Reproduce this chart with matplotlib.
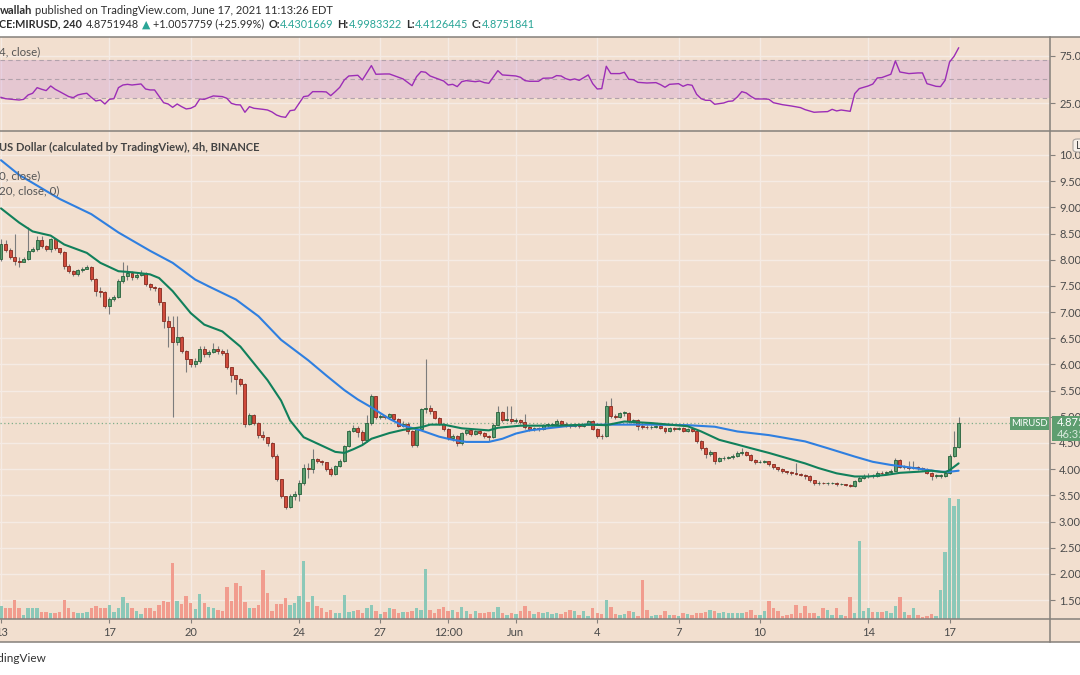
import matplotlib
matplotlib.use("Agg")
import matplotlib.pyplot as plt
from matplotlib.patches import Rectangle, FancyBboxPatch
from matplotlib.lines import Line2D
import numpy as np

W, H = 1080, 675
plt.rcParams['font.family'] = ['Lato', 'DejaVu Sans']

# ---- 4h candles, MIR/USD, May 13 00:00 .. Jun 17 08:00 ----
first_open = 8.02
close = [
    8.30, 8.19, 8.06, 7.97, 7.96, 8.02, 8.17, 8.21, 8.38, 8.26,
    8.21, 8.39, 8.22, 8.15, 7.88, 7.78, 7.72, 7.81, 7.83, 7.87,
    7.63, 7.40, 7.38, 7.12, 7.25, 7.28, 7.60, 7.68, 7.74, 7.67,
    7.71, 7.74, 7.54, 7.48, 7.46, 7.19, 6.82, 6.72, 6.42, 6.53,
    6.26, 6.10, 6.01, 6.06, 6.29, 6.20, 6.24, 6.30, 6.25, 6.22,
    5.95, 5.79, 5.73, 5.62, 4.87, 5.04, 4.88, 4.66, 4.61, 4.50,
    4.26, 3.82, 3.49, 3.28, 3.49, 3.52, 3.73, 4.03, 4.01, 4.19,
    4.16, 4.13, 4.00, 3.90, 4.06, 4.16, 4.45, 4.72, 4.79, 4.71,
    4.55, 4.89, 5.39, 4.99, 5.01, 4.99, 5.05, 4.96, 4.83, 4.87,
    4.72, 4.47, 4.76, 5.14, 5.17, 5.11, 4.97, 4.87, 4.76, 4.59,
    4.64, 4.50, 4.69, 4.74, 4.68, 4.72, 4.69, 4.63, 4.61, 4.85,
    5.10, 4.93, 4.96, 4.91, 4.94, 4.90, 4.80, 4.77, 4.78, 4.76,
    4.85, 4.85, 4.86, 4.92, 4.86, 4.85, 4.82, 4.86, 4.82, 4.86,
    4.91, 4.77, 4.64, 4.63, 5.20, 5.01, 5.00, 5.07, 5.08, 4.92,
    4.93, 4.83, 4.81, 4.80, 4.81, 4.82, 4.79, 4.72, 4.79, 4.76,
    4.79, 4.72, 4.77, 4.72, 4.53, 4.40, 4.29, 4.32, 4.16, 4.21,
    4.22, 4.23, 4.25, 4.31, 4.32, 4.27, 4.18, 4.13, 4.14, 4.15,
    4.09, 4.04, 4.00, 3.96, 3.94, 3.92, 3.91, 3.89, 3.86, 3.79,
    3.73, 3.74, 3.73, 3.73, 3.74, 3.71, 3.71, 3.69, 3.68, 3.77,
    3.84, 3.86, 3.87, 3.86, 3.93, 3.92, 3.95, 3.96, 4.18, 4.05,
    4.05, 4.02, 4.04, 4.02, 4.01, 3.92, 3.87, 3.87, 3.87, 3.92,
    4.26, 4.43, 4.875,
]
high = [
    8.39, 8.38, 8.22, 8.50, 8.05, 8.05, 8.62, 8.25, 8.46, 8.45,
    8.28, 8.41, 8.40, 8.23, 8.16, 7.92, 7.80, 7.83, 7.87, 7.90,
    7.88, 7.65, 7.47, 7.40, 7.28, 7.32, 7.63, 7.95, 7.90, 7.78,
    7.76, 7.80, 7.76, 7.56, 7.50, 7.47, 7.20, 6.92, 6.92, 6.92,
    6.55, 6.27, 6.10, 6.12, 6.36, 6.35, 6.28, 6.40, 6.35, 6.30,
    6.30, 5.96, 5.80, 5.75, 5.64, 5.08, 5.06, 4.90, 4.72, 4.62,
    4.52, 4.28, 3.82, 3.49, 3.52, 3.58, 3.80, 4.10, 4.12, 4.38,
    4.22, 4.18, 4.14, 4.05, 4.08, 4.19, 4.47, 4.74, 4.85, 4.82,
    4.74, 5.04, 5.44, 5.40, 5.06, 5.04, 5.08, 5.06, 4.97, 4.92,
    4.90, 4.74, 4.78, 5.16, 6.11, 5.22, 5.12, 5.00, 4.88, 4.78,
    4.67, 4.66, 4.71, 4.77, 4.76, 4.74, 4.74, 4.70, 4.66, 4.88,
    5.20, 5.11, 5.20, 5.20, 4.97, 4.96, 5.06, 4.83, 4.81, 4.80,
    4.87, 4.88, 4.89, 4.95, 4.93, 4.90, 4.87, 4.88, 4.89, 4.88,
    4.94, 4.93, 4.79, 4.68, 5.30, 5.36, 5.05, 5.10, 5.12, 5.10,
    4.96, 4.95, 4.86, 4.84, 4.84, 4.85, 4.84, 4.80, 4.81, 4.81,
    4.81, 4.80, 4.79, 4.78, 4.73, 4.55, 4.42, 4.36, 4.33, 4.24,
    4.25, 4.26, 4.28, 4.34, 4.40, 4.34, 4.28, 4.20, 4.17, 4.18,
    4.16, 4.10, 4.05, 4.02, 3.97, 3.96, 4.12, 3.92, 3.91, 3.88,
    3.80, 3.77, 3.76, 3.76, 3.76, 3.75, 3.74, 3.72, 3.71, 3.79,
    3.87, 3.90, 3.92, 3.90, 3.96, 3.97, 3.97, 4.00, 4.22, 4.20,
    4.08, 4.15, 4.15, 4.06, 4.04, 4.03, 3.94, 3.91, 3.90, 3.94,
    4.29, 4.72, 4.998,
]
low = [
    7.97, 8.14, 8.02, 7.90, 7.87, 7.95, 8.00, 8.14, 8.17, 8.22,
    8.17, 8.15, 8.18, 8.10, 7.82, 7.74, 7.68, 7.68, 7.76, 7.82,
    7.60, 7.30, 7.28, 7.08, 6.97, 7.22, 7.26, 7.55, 7.62, 7.62,
    7.64, 7.68, 7.50, 7.42, 7.40, 7.14, 6.69, 6.34, 5.00, 6.38,
    6.22, 5.86, 5.95, 5.95, 6.02, 6.15, 6.14, 6.21, 6.20, 6.18,
    5.92, 5.67, 5.44, 5.58, 4.80, 4.85, 4.85, 4.60, 4.56, 4.45,
    4.22, 3.78, 3.44, 3.23, 3.25, 3.42, 3.39, 3.70, 3.84, 3.92,
    4.12, 4.08, 3.96, 3.86, 3.88, 4.04, 4.14, 4.42, 4.70, 4.62,
    4.46, 4.52, 4.85, 4.95, 4.95, 4.96, 4.97, 4.92, 4.80, 4.80,
    4.68, 4.42, 4.42, 4.74, 5.08, 5.05, 4.95, 4.85, 4.72, 4.55,
    4.53, 4.45, 4.46, 4.66, 4.64, 4.66, 4.65, 4.60, 4.54, 4.59,
    4.84, 4.90, 4.92, 4.88, 4.89, 4.87, 4.77, 4.73, 4.73, 4.72,
    4.74, 4.81, 4.82, 4.84, 4.83, 4.81, 4.79, 4.80, 4.79, 4.80,
    4.84, 4.74, 4.60, 4.58, 4.62, 4.98, 4.95, 4.98, 5.02, 4.88,
    4.88, 4.74, 4.77, 4.76, 4.77, 4.78, 4.76, 4.69, 4.71, 4.73,
    4.74, 4.70, 4.70, 4.70, 4.50, 4.36, 4.22, 4.26, 4.10, 4.14,
    4.17, 4.19, 4.20, 4.23, 4.27, 4.25, 4.16, 4.10, 4.11, 4.11,
    4.06, 4.01, 3.97, 3.93, 3.91, 3.89, 3.88, 3.86, 3.82, 3.76,
    3.70, 3.70, 3.71, 3.70, 3.71, 3.68, 3.69, 3.67, 3.66, 3.66,
    3.76, 3.82, 3.84, 3.83, 3.85, 3.89, 3.90, 3.92, 3.96, 4.02,
    4.01, 3.99, 4.00, 3.99, 3.98, 3.90, 3.79, 3.83, 3.84, 3.85,
    3.90, 4.23, 4.413,
]
# volume, relative units
volume = [
    13.3, 11.0, 10.7, 19.3, 10.7, 4.3, 11.0, 10.7, 10.7, 7.3,
    7.3, 6.0, 5.7, 7.3, 19.3, 11.0, 6.7, 5.7, 6.0, 7.3,
    11.0, 13.3, 11.0, 11.0, 14.0, 7.3, 11.0, 22.3, 16.0, 11.0,
    7.7, 5.0, 10.7, 10.7, 7.7, 14.3, 18.3, 16.7, 55.7, 18.3,
    15.0, 23.3, 16.0, 10.0, 25.0, 16.0, 12.3, 11.0, 9.3, 8.3,
    32.3, 18.3, 35.7, 33.3, 17.3, 11.0, 10.7, 14.3, 49.3, 26.0,
    8.3, 15.0, 15.0, 21.0, 14.0, 15.7, 22.7, 58.3, 17.3, 22.7,
    12.7, 11.0, 7.3, 9.3, 6.0, 6.0, 24.0, 7.3, 8.3, 9.3,
    6.0, 11.0, 14.0, 7.7, 5.0, 6.7, 11.0, 10.0, 5.7, 6.7,
    7.3, 7.7, 10.7, 9.3, 50.0, 9.0, 6.0, 10.0, 12.3, 8.3,
    9.0, 6.7, 12.3, 8.3, 5.0, 7.7, 5.7, 5.7, 6.7, 7.3,
    11.7, 6.0, 4.3, 6.0, 5.0, 7.7, 13.3, 7.7, 5.0, 7.3,
    6.0, 6.7, 5.0, 6.0, 5.0, 6.7, 9.3, 8.3, 4.0, 8.3,
    2.7, 11.0, 6.0, 5.0, 19.3, 12.3, 5.0, 4.3, 5.0, 8.3,
    7.3, 2.7, 39.3, 9.3, 3.3, 4.3, 4.0, 7.7, 4.0, 4.3,
    3.3, 6.0, 5.0, 4.3, 5.7, 5.7, 7.3, 9.0, 7.7, 5.7,
    7.3, 6.0, 6.0, 6.0, 6.0, 7.3, 9.3, 4.0, 4.3, 7.7,
    18.3, 10.7, 8.3, 3.3, 4.3, 5.0, 14.0, 6.0, 13.3, 5.7,
    6.0, 2.7, 11.0, 9.3, 4.0, 10.7, 4.0, 3.3, 21.7, 6.0,
    78.0, 8.3, 11.3, 7.3, 7.3, 7.3, 8.3, 5.7, 13.3, 22.3,
    7.3, 4.0, 11.0, 4.3, 2.3, 3.3, 5.0, 3.3, 29.3, 67.0,
    121.0, 113.0, 120.0,
]

# moving averages (bar index, value)
slow_idx = [0, 4, 13, 20, 26, 33, 38, 43, 46, 52, 57, 62, 68, 72, 76, 79,
            82, 86, 89, 93, 97, 100, 103, 108, 111, 114, 117, 121, 126, 130,
            134, 138, 144, 152, 158, 163, 170, 178, 183, 189, 193, 197, 199,
            203, 208, 210, 212]
slow_val = [9.90, 9.62, 9.16, 8.87, 8.52, 8.17, 7.94, 7.62, 7.49, 7.24, 6.92,
            6.47, 6.08, 5.79, 5.51, 5.33, 5.18, 4.96, 4.83, 4.74, 4.62, 4.56,
            4.52, 4.52, 4.58, 4.68, 4.74, 4.78, 4.83, 4.85, 4.85, 4.85, 4.85,
            4.84, 4.81, 4.72, 4.65, 4.53, 4.40, 4.24, 4.14, 4.08, 4.06, 4.01,
            3.95, 3.95, 3.97]
fast_idx = [0, 4, 7, 11, 14, 19, 22, 26, 29, 33, 35, 38, 42, 45, 49, 53, 56,
            59, 62, 64, 67, 71, 74, 76, 78, 80, 82, 86, 89, 93, 95, 98, 102,
            108, 110, 115, 123, 130, 134, 138, 144, 152, 155, 159, 163, 166,
            170, 174, 178, 181, 185, 189, 192, 196, 199, 203, 206, 209, 210, 212]
fast_val = [8.98, 8.71, 8.54, 8.46, 8.29, 8.13, 7.94, 7.78, 7.76, 7.72, 7.65,
            7.40, 6.98, 6.76, 6.63, 6.34, 6.02, 5.70, 5.31, 4.93, 4.61, 4.45,
            4.33, 4.31, 4.38, 4.46, 4.58, 4.69, 4.75, 4.80, 4.85, 4.85, 4.78,
            4.74, 4.79, 4.83, 4.83, 4.85, 4.84, 4.91, 4.88, 4.82, 4.72, 4.56,
            4.47, 4.40, 4.31, 4.21, 4.11, 4.02, 3.92, 3.86, 3.86, 3.89, 3.93,
            3.95, 3.97, 3.94, 3.98, 4.11]

# RSI (bar index, value)
rsi_idx = [0, 1, 4, 5, 6, 7, 8, 9, 10, 11, 12, 13, 15, 16, 17, 18, 19, 20, 21,
           22, 23, 24, 25, 26, 27, 28, 29, 31, 32, 33, 34, 36, 37, 38, 39, 40,
           41, 42, 43, 44, 45, 46, 47, 49, 50, 51, 52, 53, 54, 55, 56, 58, 59,
           60, 61, 62, 63, 64, 65, 67, 68, 69, 71, 72, 73, 74, 75, 76, 77, 79,
           80, 82, 83, 85, 86, 88, 89, 91, 92, 93, 94, 95, 97, 98, 99, 100,
           101, 102, 103, 105, 106, 107, 108, 110, 111, 113, 114, 115, 116,
           117, 119, 120, 122, 123, 124, 125, 126, 127, 128, 130, 131, 132,
           133, 134, 135, 137, 138, 139, 140, 141, 143, 145, 146, 147, 148,
           150, 151, 152, 153, 154, 155, 156, 157, 158, 160, 161, 162, 163,
           164, 165, 166, 167, 169, 170, 171, 173, 175, 177, 178, 180, 181,
           183, 184, 185, 186, 187, 188, 189, 190, 192, 193, 194, 195, 197,
           198, 199, 201, 203, 204, 205, 207, 208, 209, 210, 211, 212]
rsi_val = [31.0, 29.6, 28.2, 28.9, 33.5, 35.3, 41.2, 39.5, 38.1, 43.0, 39.5,
           37.0, 31.8, 30.7, 33.5, 34.6, 35.3, 31.0, 27.2, 28.2, 24.0, 28.9,
           29.6, 41.2, 44.0, 44.7, 44.0, 45.1, 39.8, 38.8, 38.8, 25.4, 24.0,
           20.5, 24.0, 21.2, 18.8, 19.5, 21.9, 29.3, 28.9, 30.7, 32.5, 31.8,
           30.0, 24.7, 23.3, 23.0, 15.3, 21.2, 19.5, 18.4, 17.7, 15.6, 12.4,
           10.7, 10.0, 17.0, 17.7, 31.8, 32.5, 37.0, 37.0, 36.7, 32.8, 37.0,
           41.6, 49.3, 53.5, 54.2, 49.3, 64.4, 55.3, 55.6, 55.6, 52.1, 50.4,
           43.3, 52.8, 58.1, 57.4, 53.5, 50.0, 48.2, 44.0, 44.7, 42.3, 47.5,
           48.6, 47.5, 48.2, 46.5, 45.8, 59.1, 54.6, 53.9, 53.5, 52.1, 48.6,
           47.9, 47.9, 51.1, 51.4, 53.9, 53.5, 50.7, 49.3, 50.4, 48.9, 54.6,
           45.4, 39.8, 40.2, 63.7, 56.0, 56.0, 57.4, 50.0, 49.6, 46.8, 46.1,
           46.5, 44.4, 41.6, 44.7, 45.4, 42.6, 44.5, 43.7, 34.2, 29.6, 27.9,
           27.9, 23.7, 25.1, 26.8, 27.2, 31.4, 37.0, 35.6, 32.1, 29.3, 29.3,
           29.0, 25.4, 23.3, 21.9, 20.2, 18.1, 15.3, 15.6, 16.0, 18.4, 16.7,
           17.7, 17.0, 16.3, 34.9, 40.2, 43.0, 45.0, 51.4, 51.8, 55.3, 69.3,
           57.7, 56.0, 56.7, 56.7, 45.4, 42.6, 42.3, 48.9, 68.2, 74.2, 83.0]

date_idx = [0, 24, 42, 66, 84, 99, 114, 132, 150, 168, 192, 210]
date_lbl = ['13', '17', '20', '24', '27', '12:00', 'Jun', '4', '7', '10', '14', '17']
last_price = 4.875

BG = '#f2dfcf'
GRID = '#f5ebe4'
FRAME = '#85807b'
TXT = '#4a4a4a'
TEAL = '#2aa597'
UP_FILL, UP_EDGE = '#5c9e70', '#24603a'
DN_FILL, DN_EDGE = '#cf4a3b', '#852a1f'
VOL_UP, VOL_DN = '#8cc8b8', '#f19c8e'


def rect(x0, y0, x1, y1):
    return [x0 / W, 1 - y1 / H, (x1 - x0) / W, (y1 - y0) / H]


def fx(x):
    return x / W


def fy(y):
    return 1 - y / H


n = len(close)
idx = np.arange(n)
c = np.array(close)
o = np.array([first_open] + close[:-1])
hi = np.array(high)
lo = np.array(low)
up = c >= o
XL = (-1 / 4.517, 1049 / 4.517)

fig = plt.figure(figsize=(W / 100, H / 100), dpi=100, facecolor='white')
fig.patches.append(Rectangle((0, fy(642)), 1, fy(37) - fy(642), transform=fig.transFigure,
                             facecolor=BG, edgecolor='none', zorder=-5))

# ---- RSI pane ----
rax = fig.add_axes(rect(0, 37, 1050, 131))
rax.set_facecolor('none')
rax.set_xlim(XL)
rax.set_ylim(-4.4, 94.5)
rax.set_axisbelow(True)
rax.axhspan(30, 70, facecolor='#c48ad8', alpha=0.28, lw=0, zorder=1)
for lv in (30, 50, 70):
    rax.axhline(lv, color='#b2a2ac', lw=0.8, ls=(0, (4, 3)), zorder=2)
rax.plot(rsi_idx, rsi_val, color='#9c2db6', lw=1.0, zorder=3)
rax.set_xticks(date_idx)
rax.set_xticklabels([])
rax.set_yticks([25, 75])
rax.set_yticklabels(['25.00', '75.00'])
rax.yaxis.tick_right()
rax.tick_params(axis='x', length=0)
rax.tick_params(axis='y', direction='out', length=3.5, pad=3, labelsize=8,
                colors=FRAME, labelcolor=TXT)
rax.grid(True, color=GRID, lw=1)
for s in rax.spines.values():
    s.set_visible(False)

# ---- price pane ----
ax = fig.add_axes(rect(0, 131, 1050, 619))
ax.set_facecolor('none')
ax.set_xlim(XL)
ax.set_ylim(1.138, 10.458)
ax.set_axisbelow(True)
ax.grid(True, color=GRID, lw=1)
ax.vlines(idx, lo, hi, color='#7c7c7c', lw=0.8, zorder=3)
body_lo = np.minimum(o, c)
body_h = np.maximum(np.abs(c - o), 0.012)
ax.bar(idx, body_h, bottom=body_lo, width=0.66,
       color=np.where(up, UP_FILL, DN_FILL), edgecolor=np.where(up, UP_EDGE, DN_EDGE),
       lw=0.6, zorder=4)
ax.plot(slow_idx, slow_val, color='#2f7fe0', lw=1.5, zorder=5, solid_capstyle='round')
ax.plot(fast_idx, fast_val, color='#11805b', lw=1.5, zorder=5, solid_capstyle='round')
ax.axhline(last_price, color='#7fae8b', lw=0.9, ls=(0, (1, 2)), zorder=2)
ax.set_xticks(date_idx)
ax.set_xticklabels(date_lbl)
ax.set_yticks(np.arange(1.5, 10.01, 0.5))
ax.yaxis.set_major_formatter(matplotlib.ticker.FuncFormatter(lambda v, p: f'{v:.3f}'))
ax.yaxis.tick_right()
ax.tick_params(axis='y', direction='out', length=3.5, pad=3, labelsize=8,
               colors=FRAME, labelcolor=TXT)
ax.tick_params(axis='x', direction='out', length=3, pad=3, labelsize=8,
               colors=FRAME, labelcolor=TXT)
for s in ax.spines.values():
    s.set_visible(False)

# volume on top, sharing the bar positions
vax = fig.add_axes(rect(0, 131, 1050, 619))
vax.set_facecolor('none')
vax.set_xlim(XL)
vax.set_ylim(0, 488)
vax.bar(idx, volume, width=0.76, color=np.where(up, VOL_UP, VOL_DN), lw=0)
vax.axis('off')

# frame lines
for yy in (37, 131, 619, 642):
    fig.add_artist(Line2D([0, 1], [fy(yy), fy(yy)], color=FRAME, lw=1.1))
fig.add_artist(Line2D([fx(1050), fx(1050)], [fy(37), fy(642)], color=FRAME, lw=1.1))

# price tags
fig.add_artist(Rectangle((fx(1010), fy(430)), fx(39), fy(417) - fy(430),
                         facecolor='#5e9e70', edgecolor='none', zorder=6))
fig.text(fx(1029.5), fy(423.5), 'MIRUSD', color='white', fontsize=6.8,
         ha='center', va='center', zorder=7)
fig.add_artist(Rectangle((fx(1052), fy(441)), fx(30), fy(416) - fy(441),
                         facecolor='#5e9e70', edgecolor='none', zorder=6))
fig.text(fx(1057), fy(423), '4.875', color='white', fontsize=8, va='center', zorder=7)
fig.text(fx(1057), fy(435), '46:35', color='#d8eadc', fontsize=8, va='center', zorder=7)
fig.add_artist(FancyBboxPatch((fx(1073), fy(152)), fx(12), fy(139) - fy(152),
                              boxstyle='round,pad=0,rounding_size=0.004',
                              transform=fig.transFigure, facecolor='#f7efe8',
                              edgecolor='#a9a39e', lw=0.8, zorder=6))
fig.text(fx(1076), fy(145.5), 'L', color=TXT, fontsize=8, va='center', zorder=7)

# pane legends
fig.text(fx(-1), fy(52), '4, close)', color='#555555', fontsize=8.3, va='center')
fig.text(fx(-1), fy(147), 'US Dollar (calculated by TradingView), 4h, BINANCE',
         color='#444444', fontsize=8, fontweight='bold', va='center')
fig.text(fx(-1), fy(176), '0, close)', color='#555555', fontsize=8.3, va='center')
fig.text(fx(-1), fy(191), '20, close, 0)', color='#555555', fontsize=8.3, va='center')

# header
renderer = fig.canvas.get_renderer()


def seq(x, y, parts, size=7.8):
    for s, col, wt, gap in parts:
        t = fig.text(fx(x), fy(y), s, color=col, fontweight=wt, fontsize=size, va='center')
        x += t.get_window_extent(renderer=renderer).width + gap


DARK = '#2e2e2e'
seq(0, 10, [('wallah', DARK, 'bold', 3),
            ('published on TradingView.com, June 17, 2021 11:13:26 EDT', DARK, 'normal', 0)],
    size=8.0)
seq(-1, 24, [('CE:MIRUSD, 240', DARK, 'bold', 4),
             ('4.8751948', DARK, 'normal', 3),
             ('\u25b2', TEAL, 'normal', 3),
             ('+1.0057759 (+25.99%)', DARK, 'normal', 4),
             ('O:', DARK, 'bold', 0), ('4.4301669', TEAL, 'normal', 4),
             ('H:', DARK, 'bold', 0), ('4.9983322', TEAL, 'normal', 4),
             ('L:', DARK, 'bold', 0), ('4.4126445', TEAL, 'normal', 4),
             ('C:', DARK, 'bold', 0), ('4.8751841', TEAL, 'normal', 0)])

fig.text(fx(47), fy(659), 'TradingView', color='#333333', fontsize=8.5,
         ha='right', va='center')

fig.savefig('out.png', dpi=100, facecolor='white')
